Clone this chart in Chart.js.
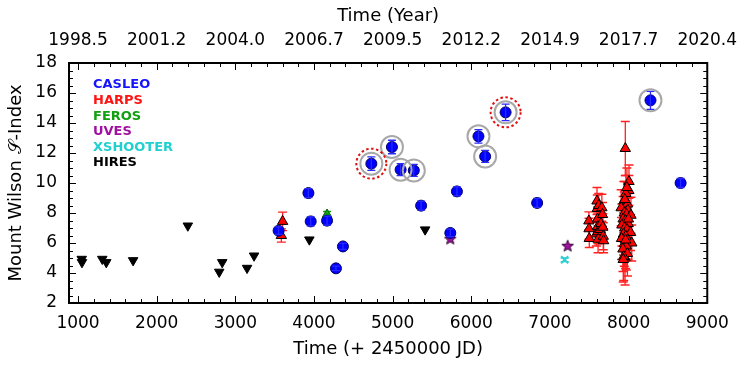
<!DOCTYPE html>
<html>
<head>
<meta charset="utf-8">
<script src="https://cdn.jsdelivr.net/npm/chart.js@4.4.1/dist/chart.umd.min.js"></script>
<style>
  html, body { margin: 0; padding: 0; background: #fff; }
  #wrap { width: 749px; height: 368px; }
</style>
</head>
<body>
<div id="wrap"><canvas id="sChart" width="749" height="368"></canvas></div>
<script>
// tick labels
const jdTicks = [1000, 2000, 3000, 4000, 5000, 6000, 7000, 8000, 9000];
const yearLabels = ["1998.5", "2001.2", "2004.0", "2006.7", "2009.5", "2012.2", "2014.9", "2017.7", "2020.4"];
const sTicks = [2, 4, 6, 8, 10, 12, 14, 16, 18];

// CASLEO
const casleoJD = [3550, 3929, 3958, 4166, 4279, 4368, 4729, 4991, 5101, 5269, 5362, 5733, 5817, 6091, 6176, 6436, 6837, 8278, 8661];
const casleoS = [6.82, 9.33, 7.44, 7.49, 4.31, 5.77, 11.29, 12.40, 10.89, 10.84, 8.49, 6.67, 9.44, 13.11, 11.77, 14.71, 8.67, 15.51, 10.0];
const casleoErr = [0.25, 0.3, 0.3, 0.3, 0.15, 0.2, 0.45, 0.45, 0.4, 0.4, 0.3, 0.25, 0.3, 0.45, 0.4, 0.55, 0.3, 0.6, 0.3];
// circled CASLEO points (index into casleo arrays)
const grayRingIdx = [6, 7, 8, 9, 13, 14, 15, 17];
const redRingIdx = [6, 15];

// HARPS
const harpsJD = [3601, 3585,
  7495, 7497, 7500, 7590, 7598, 7602, 7605, 7608, 7610, 7612, 7620, 7640, 7650, 7660, 7668, 7672, 7678, 7682,
  7958, 8005, 8003, 7965, 7940, 7985, 7905, 7990, 7945, 7975, 8030, 7930, 7960, 7995, 7915, 7950, 7980, 8025,
  7935, 7965, 7910, 7990, 8040, 7945, 7970, 7928, 7955, 7985, 7938, 7962, 7998, 7952, 7978, 7932];
const harpsS = [7.44, 6.5,
  7.47, 6.95, 6.3, 6.6, 8.8, 8.3, 7.6, 7.1, 6.75, 6.25, 8.5, 6.9, 7.3, 8.35, 7.9, 7.05, 6.45, 6.15,
  12.3, 10.1, 9.5, 9.3, 8.8, 8.6, 8.35, 8.2, 8.0, 7.9, 7.85, 7.6, 7.5, 7.3, 7.2, 7.0, 6.9, 6.7,
  6.6, 6.45, 6.3, 6.2, 6.0, 5.95, 5.8, 5.6, 5.0, 5.3, 5.1, 6.2, 7.6, 8.9, 9.7, 4.9];
const harpsErr = [0.62, 0.44,
  0.6, 0.7, 0.6, 0.8, 0.9, 0.9, 0.8, 0.9, 0.8, 0.9, 0.8, 0.8, 0.7, 0.9, 0.8, 0.9, 0.9, 0.8,
  1.8, 1.1, 1.0, 1.2, 1.3, 1.4, 1.2, 1.1, 1.4, 1.3, 1.2, 1.5, 1.3, 1.2, 1.4, 1.5, 1.3, 1.2,
  1.4, 1.5, 1.4, 1.3, 1.2, 1.5, 1.6, 1.5, 1.8, 1.5, 1.6, 1.9, 1.4, 1.2, 1.3, 1.5];

// FEROS
const ferosJD = [4166];
const ferosS = [7.9];
const ferosErr = [0.2];

// UVES
const uvesJD = [5733, 7225];
const uvesS = [6.29, 5.82];

// XSHOOTER
const xshJD = [7187];
const xshS = [4.88];
const xshErr = [0.12];

// HIRES
const hiresJD = [1047, 1050, 1308, 1359, 1700, 2396, 2795, 2833, 3149, 3238, 3941, 5413];
const hiresS = [4.93, 4.71, 4.93, 4.71, 4.84, 7.15, 4.07, 4.71, 4.33, 5.15, 6.22, 6.89];

const legendNames = ["CASLEO", "HARPS", "FEROS", "UVES", "XSHOOTER", "HIRES"];
const legendColors = ["#1414ff", "#ff1414", "#10a010", "#a010a0", "#20d0d0", "#000000"];

function pts(xs, ys) {
  return xs.map((x, i) => ({ x: x, y: ys[i] }));
}

// filled star marker for UVES
function starMarker() {
  const c = document.createElement("canvas");
  c.width = 14; c.height = 14;
  const g = c.getContext("2d");
  g.beginPath();
  for (let i = 0; i < 10; i++) {
    const r = i % 2 === 0 ? 6 : 2.6;
    const a = -Math.PI / 2 + i * Math.PI / 5;
    const px = 7 + r * Math.cos(a), py = 7.5 + r * Math.sin(a);
    if (i === 0) g.moveTo(px, py); else g.lineTo(px, py);
  }
  g.closePath();
  g.fillStyle = "#a010a0";
  g.fill();
  g.strokeStyle = "#300030";
  g.lineWidth = 1;
  g.stroke();
  return c;
}

function drawErrors(chart, args) {
  const ds = chart.data.datasets[args.index];
  const ctx = chart.ctx;
  const ys = chart.scales.y;
  const cap = ds.capWidth || 4;
  ctx.save();
  ctx.strokeStyle = ds.errorColor;
  ctx.lineWidth = 1.3;
  args.meta.data.forEach((p, i) => {
    const e = ds.errors[i];
    if (!e) return;
    const v = ds.data[i].y;
    const top = ys.getPixelForValue(v + e);
    const bot = ys.getPixelForValue(v - e);
    ctx.beginPath();
    ctx.moveTo(p.x, top); ctx.lineTo(p.x, bot);
    ctx.moveTo(p.x - cap, top); ctx.lineTo(p.x + cap, top);
    ctx.moveTo(p.x - cap, bot); ctx.lineTo(p.x + cap, bot);
    ctx.stroke();
  });
  ctx.restore();
}

// vertical error bars with caps, drawn through the y scale
const errorBars = {
  id: "errorBars",
  beforeDatasetDraw(chart, args) {
    const ds = chart.data.datasets[args.index];
    if (ds.dashed) {
      chart.ctx.save();
      chart.ctx.setLineDash([2.5, 2.5]);
    }
    if (ds.errors && !ds.errorsOnTop) drawErrors(chart, args);
  },
  afterDatasetDraw(chart, args) {
    const ds = chart.data.datasets[args.index];
    if (ds.dashed) chart.ctx.restore();
    if (ds.errors && ds.errorsOnTop) drawErrors(chart, args);
  }
};

// frame, inward ticks on all sides, legend text
const frameAndLegend = {
  id: "frameAndLegend",
  afterDraw(chart) {
    const ctx = chart.ctx;
    const a = chart.chartArea;
    const xs = chart.scales.x, ys = chart.scales.y;
    ctx.save();
    ctx.strokeStyle = "#000";
    ctx.lineWidth = 1;
    ctx.beginPath();
    for (let v = 1000; v <= 9000; v += 200) {
      const px = Math.round(xs.getPixelForValue(v)) + 0.5;
      const len = v % 1000 === 0 ? 7 : 4;
      ctx.moveTo(px, a.bottom); ctx.lineTo(px, a.bottom - len);
      ctx.moveTo(px, a.top); ctx.lineTo(px, a.top + len);
    }
    for (let v = 2; v <= 18; v += 0.5) {
      const py = Math.round(ys.getPixelForValue(v)) + 0.5;
      const len = v % 2 === 0 ? 7 : 4;
      ctx.moveTo(a.left, py); ctx.lineTo(a.left + len, py);
      ctx.moveTo(a.right, py); ctx.lineTo(a.right - len, py);
    }
    ctx.stroke();
    ctx.lineWidth = 2;
    ctx.strokeRect(a.left, a.top, a.right - a.left, a.bottom - a.top);

    ctx.font = "bold 13px 'DejaVu Sans'";
    ctx.textBaseline = "middle";
    ctx.textAlign = "left";
    legendNames.forEach((name, i) => {
      ctx.fillStyle = legendColors[i];
      ctx.fillText(name, a.left + 24, a.top + 22 + i * 15.6);
    });
    ctx.restore();
  }
};

Chart.defaults.font.family = "'DejaVu Sans'";
Chart.defaults.color = "#000";

const ctx = document.getElementById("sChart").getContext("2d");

new Chart(ctx, {
  type: "scatter",
  data: {
    datasets: [
      {
        label: "red ring",
        data: pts(redRingIdx.map(i => casleoJD[i]), redRingIdx.map(i => casleoS[i])),
        pointStyle: "circle",
        pointRadius: 15,
        backgroundColor: "rgba(0,0,0,0)",
        borderColor: "#e01010",
        borderWidth: 2,
        dashed: true
      },
      {
        label: "gray ring",
        data: pts(grayRingIdx.map(i => casleoJD[i]), grayRingIdx.map(i => casleoS[i])),
        pointStyle: "circle",
        pointRadius: 11,
        backgroundColor: "rgba(0,0,0,0)",
        borderColor: "#a8a8a8",
        borderWidth: 2
      },
      {
        label: "CASLEO",
        data: pts(casleoJD, casleoS),
        errors: casleoErr,
        errorsOnTop: true,
        errorColor: "#2a2aff",
        capWidth: 4,
        pointStyle: "circle",
        pointRadius: 5.5,
        backgroundColor: "#0000ff",
        borderColor: "#000060",
        borderWidth: 1
      },
      {
        label: "HIRES",
        data: pts(hiresJD, hiresS),
        pointStyle: "triangle",
        rotation: 180,
        pointRadius: 5.5,
        backgroundColor: "#000",
        borderColor: "#000",
        borderWidth: 1
      },
      {
        label: "UVES",
        data: pts(uvesJD, uvesS),
        pointStyle: starMarker(),
        pointRadius: 6
      },
      {
        label: "XSHOOTER",
        data: pts(xshJD, xshS),
        errors: xshErr,
        errorColor: "#30d0d0",
        capWidth: 4,
        pointStyle: "crossRot",
        pointRadius: 5,
        borderColor: "#30d0d0",
        borderWidth: 2
      },
      {
        label: "FEROS",
        data: pts(ferosJD, ferosS),
        errors: ferosErr,
        errorColor: "#10a010",
        capWidth: 4,
        pointStyle: "triangle",
        pointRadius: 5.5,
        backgroundColor: "#10a010",
        borderColor: "#006000",
        borderWidth: 1
      },
      {
        label: "HARPS",
        data: pts(harpsJD, harpsS),
        errors: harpsErr,
        errorColor: "#ff2020",
        capWidth: 4.5,
        pointStyle: "triangle",
        pointRadius: 6,
        backgroundColor: "#ff0000",
        borderColor: "#000",
        borderWidth: 1
      }
    ]
  },
  options: {
    responsive: false,
    animation: false,
    layout: { padding: { left: 0, right: 38, top: 0, bottom: 0 } },
    plugins: {
      legend: { display: false },
      tooltip: { enabled: false }
    },
    scales: {
      x: {
        type: "linear",
        position: "bottom",
        min: 885,
        max: 9000,
        afterBuildTicks: scale => { scale.ticks = jdTicks.map(v => ({ value: v })); },
        afterFit: scale => { scale.height = 65; },
        grid: { display: false, drawTicks: false },
        border: { display: false },
        ticks: { font: { size: 17 }, padding: 10, maxRotation: 0, autoSkip: false, callback: v => String(v) },
        title: { display: true, text: "Time (+ 2450000 JD)", font: { size: 18 }, padding: { top: 0, bottom: 8 } }
      },
      xTop: {
        type: "linear",
        position: "top",
        min: 885,
        max: 9000,
        afterBuildTicks: scale => { scale.ticks = jdTicks.map(v => ({ value: v })); },
        afterFit: scale => { scale.height = 63; },
        grid: { display: false, drawTicks: false },
        border: { display: false },
        ticks: {
          font: { size: 17 }, padding: 12, maxRotation: 0, autoSkip: false,
          callback: (v) => yearLabels[jdTicks.indexOf(v)]
        },
        title: { display: true, text: "Time (Year)", font: { size: 18 }, padding: { top: 6, bottom: 0 } }
      },
      y: {
        type: "linear",
        min: 2,
        max: 18,
        afterBuildTicks: scale => { scale.ticks = sTicks.map(v => ({ value: v })); },
        afterFit: scale => { scale.width = 69; },
        grid: { display: false, drawTicks: false },
        border: { display: false },
        ticks: { font: { size: 17 }, padding: 12 },
        title: { display: true, text: "Mount Wilson \uD835\uDCAE-Index", font: { size: 18 }, padding: { top: 6, bottom: 0 } }
      }
    }
  },
  plugins: [errorBars, frameAndLegend]
});
</script>
</body>
</html>
